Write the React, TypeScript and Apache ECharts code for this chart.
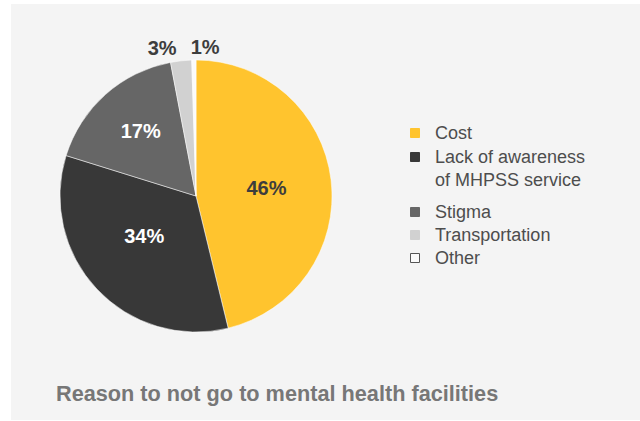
import React, { useEffect, useRef } from "react";
import * as echarts from "echarts";

const categories = [
  "Cost",
  "Lack of awareness\nof MHPSS service",
  "Stigma",
  "Transportation",
  "Other",
];
const values = [46.2, 33.6, 17.2, 2.5, 0.5];
const colors = ["#FFC42E", "#383838", "#666666", "#D1D1D1", "#FBFBFB"];
const labelColors = ["#3D3D3D", "#FFFFFF", "#FFFFFF", "#3D3D3D", "#3D3D3D"];
const labelPositions = ["inside", "inside", "inside", "outside", "outside"];
const titleText = "Reason to not go to mental health facilities";

// layout / styling constants
const FONT = "'Liberation Sans', Arial, Helvetica, sans-serif";
const legendX = 410;
const legendTextX = 435;
const legendY = [133, 157, 212, 235, 258];
const labelAdjust: any[] = [{}, { dy: -9 }, { dx: -8, dy: -12 }, {}, { align: "left" }];

export default function App() {
  const ref = useRef<HTMLDivElement>(null);
  useEffect(() => {
    document.body.style.margin = "0";
    if (!ref.current) return;
    const chart = echarts.init(ref.current, undefined, { renderer: "svg" });

    const legendGraphics: any[] = [];
    categories.forEach((name, i) => {
      legendGraphics.push({
        type: "rect",
        shape: { x: legendX + 0.5, y: legendY[i] - 4.5, width: 9, height: 9 },
        style: {
          fill: colors[i],
          stroke: i === categories.length - 1 ? "#555555" : colors[i],
          lineWidth: 1,
        },
        z: 10,
      });
      legendGraphics.push({
        type: "text",
        x: legendTextX,
        y: legendY[i] - 11.5,
        style: {
          text: name,
          fill: "#4D4D4D",
          font: `18px ${FONT}`,
          lineHeight: 23,
          verticalAlign: "top",
          align: "left",
        },
        z: 10,
      });
    });

    chart.setOption({
      animation: false,
      backgroundColor: "#FFFFFF",
      title: {
        text: titleText,
        left: 56,
        top: 382,
        padding: 0,
        textStyle: {
          fontFamily: FONT,
          fontSize: 21.7,
          fontWeight: "bold",
          color: "#777777",
        },
      },
      graphic: [
        {
          type: "rect",
          shape: { x: 11, y: 4, width: 629, height: 416 },
          style: { fill: "#F4F4F4" },
          z: -10,
          silent: true,
        },
        ...legendGraphics,
      ],
      series: [
        {
          type: "pie",
          center: [196, 196],
          radius: [0, 136],
          startAngle: 90,
          clockwise: true,
          avoidLabelOverlap: false,
          itemStyle: { borderColor: "#FFFFFF", borderWidth: 0.5 },
          label: {
            fontFamily: FONT,
            fontSize: 20,
            fontWeight: "bold",
            formatter: (p: any) => `${Math.round(p.value)}%`,
          },
          labelLine: { show: false, length: 13, length2: 0 },
          labelLayout: (p: any) => labelAdjust[p.dataIndex] || {},
          emphasis: { disabled: true },
          data: categories.map((name, i) => ({
            name,
            value: values[i],
            itemStyle: { color: colors[i] },
            label: {
              position: labelPositions[i],
              color: labelColors[i],
              distanceToLabelLine: 3,
            },
          })),
        },
      ],
    });
    return () => chart.dispose();
  }, []);
  return <div ref={ref} style={{ width: 640, height: 421 }} />;
}
